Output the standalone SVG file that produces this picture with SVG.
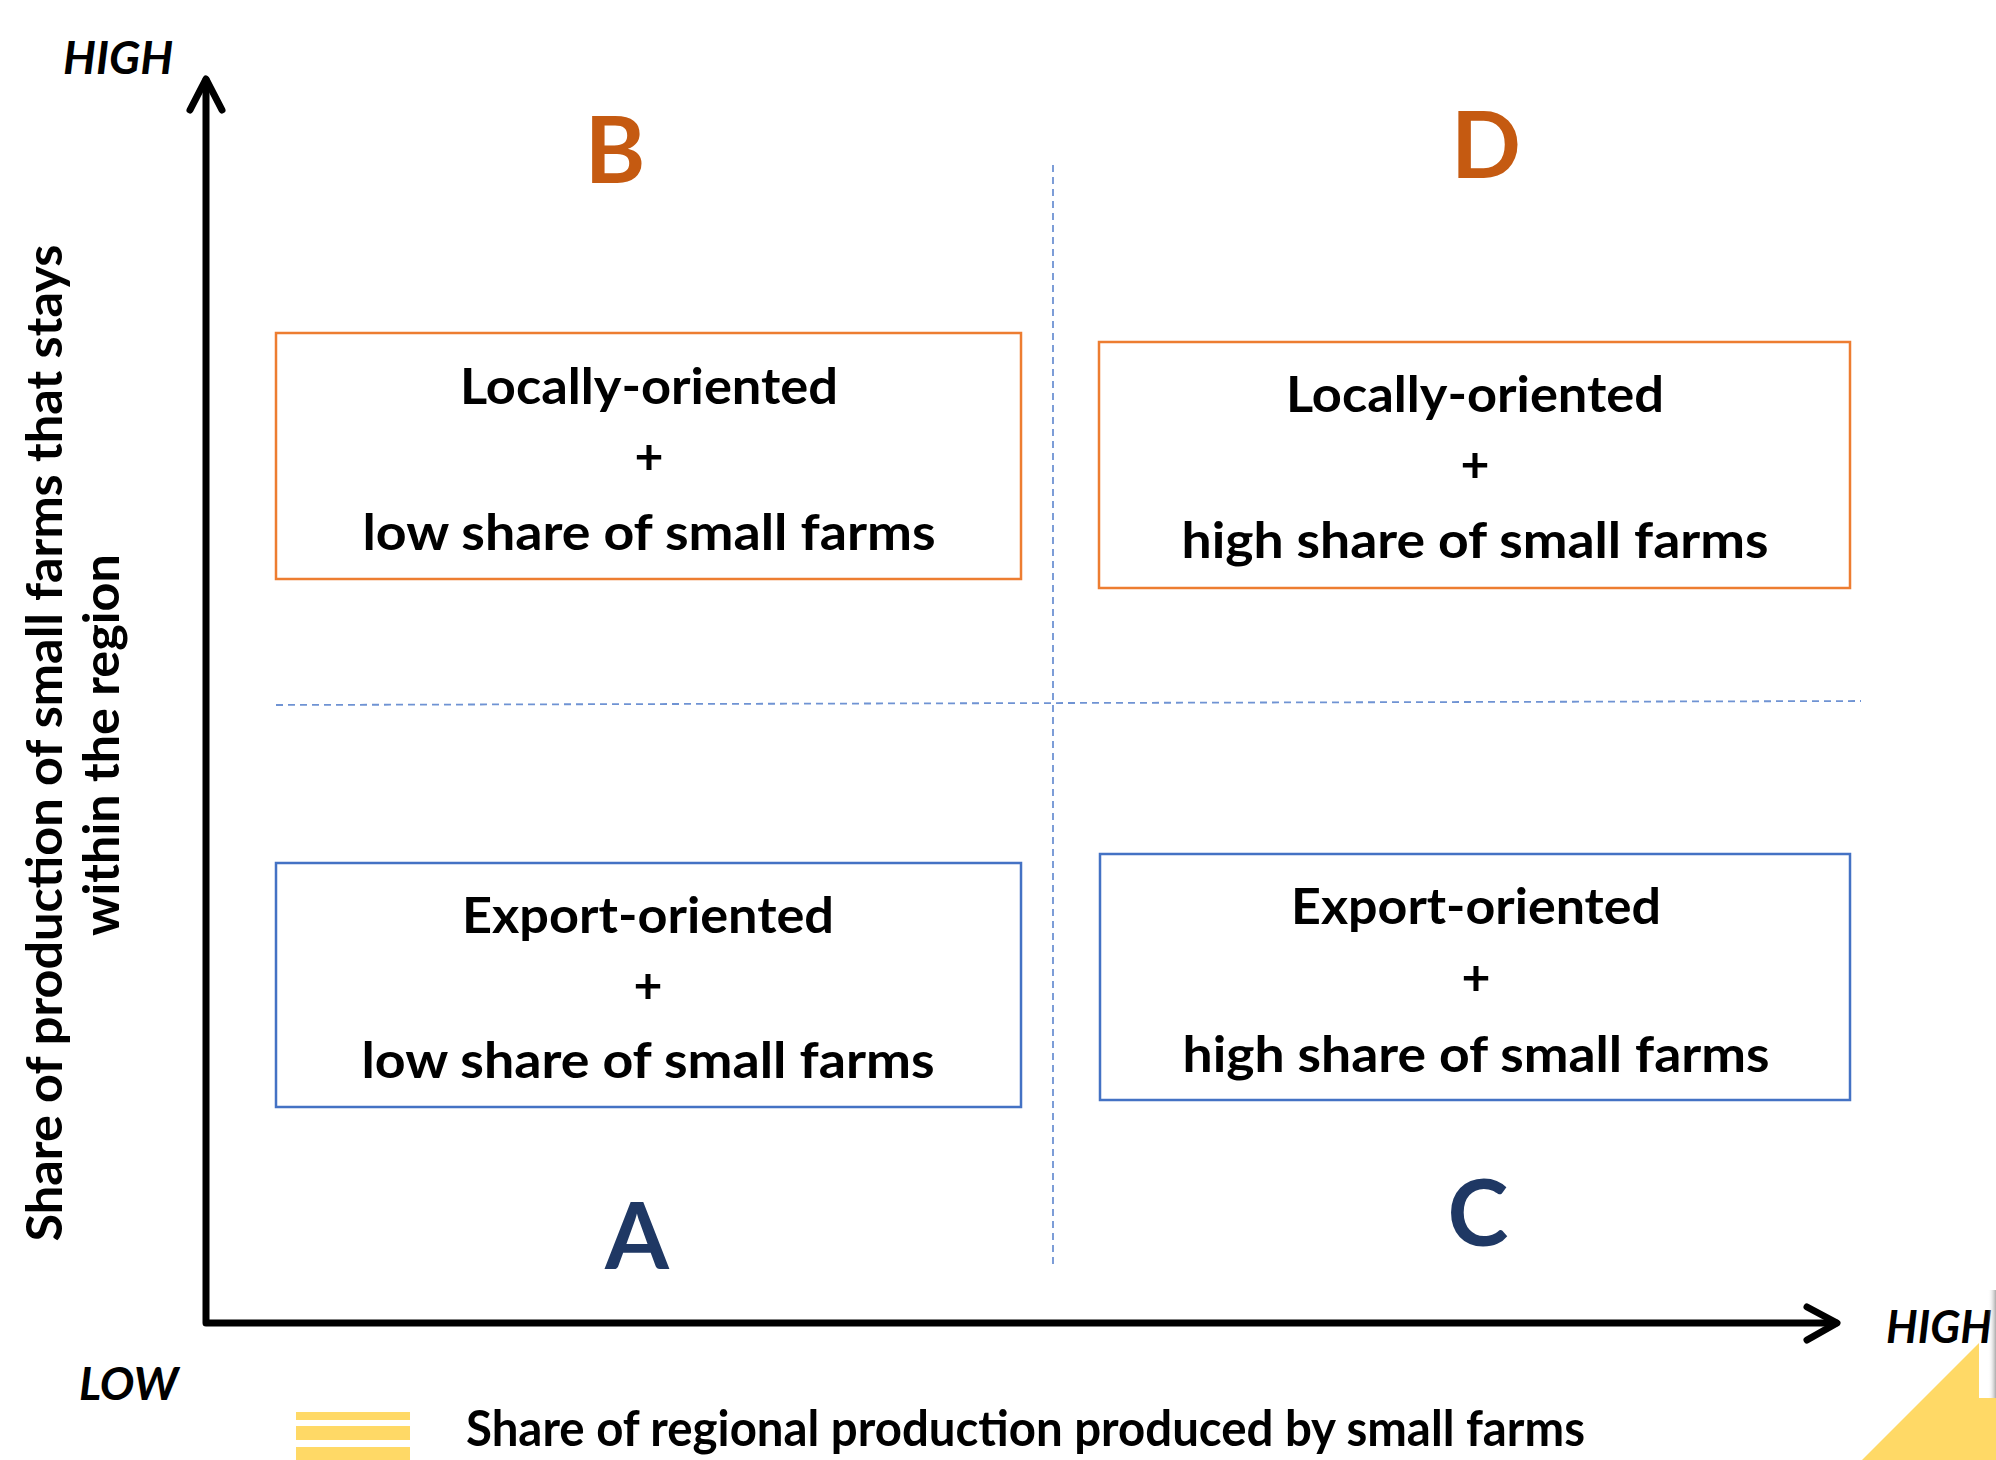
<svg xmlns="http://www.w3.org/2000/svg" width="1996" height="1460" viewBox="0 0 1996 1460">
<style>
  text { font-family: Lato, "Open Sans", "Liberation Sans", sans-serif; font-weight: bold; }
  .box-o { fill: #FFFFFF; stroke: #ED7D31; stroke-width: 2.5; }
  .box-b { fill: #FFFFFF; stroke: #4472C4; stroke-width: 2.5; }
  .t { font-size: 50px; fill: #000000; text-anchor: middle; }
  .ax { font-size: 46px; fill: #000000; font-style: italic; }
  .letter-o { font-size: 92px; fill: #C55A11; text-anchor: middle; }
  .letter-b { font-size: 92px; fill: #1F3864; text-anchor: middle; }
  .axis { stroke: #000000; stroke-width: 7; fill: none; stroke-linecap: round; stroke-linejoin: round; }
  .dash { stroke: #6F93D3; stroke-width: 1.8; fill: none; stroke-dasharray: 7 5; }
  .yel { fill: #FFD966; }
</style>
<defs>
  <linearGradient id="shadow" x1="0" y1="0" x2="1" y2="0">
    <stop offset="0" stop-color="#FFFFFF" stop-opacity="0"/>
    <stop offset="1" stop-color="#AAAAAA"/>
  </linearGradient>
</defs>
<rect x="0" y="0" width="1996" height="1460" fill="#FFFFFF"/>

<g id="connectors">
  <line class="dash" x1="1053" y1="165" x2="1053" y2="1268"/>
  <line class="dash" x1="276" y1="705" x2="1861" y2="701" stroke-dasharray="6 4"/>
  <polyline class="axis" points="206,80 206,1323 1836,1323"/>
  <polyline class="axis" points="190,110 206,79 222,110"/>
  <polyline class="axis" points="1807,1307 1837,1323 1807,1340"/>
</g>

<g id="axis-labels">
  <text class="ax" x="63" y="74">HIGH</text>
  <text class="ax" x="79" y="1400">LOW</text>
  <text class="ax" x="1886" y="1343" textLength="106" lengthAdjust="spacingAndGlyphs">HIGH</text>
  <text class="t" font-size="44" transform="rotate(-90)" x="-743" y="62" textLength="997" lengthAdjust="spacingAndGlyphs">Share of production of small farms that stays</text>
  <text class="t" font-size="44" transform="rotate(-90)" x="-745" y="119" textLength="382" lengthAdjust="spacingAndGlyphs">within the region</text>
  <text class="t" x="466" y="1446" style="text-anchor:start" textLength="1119" lengthAdjust="spacingAndGlyphs">Share of regional production produced by small farms</text>
</g>

<g id="legend-bars">
  <rect class="yel" x="296" y="1412" width="114" height="8"/>
  <rect class="yel" x="296" y="1426" width="114" height="14"/>
  <rect class="yel" x="296" y="1447" width="114" height="13"/>
</g>

<g id="corner-shape">
  <polygon class="yel" points="1862,1460 1979,1343 1979,1398 1996,1398 1996,1460"/>
  <rect x="1988" y="1290" width="8" height="108" fill="url(#shadow)"/>
</g>

<g id="node-B">
  <text class="letter-o" x="615" y="183">B</text>
  <rect class="box-o" x="276" y="333" width="745" height="246"/>
  <text class="t" x="649" y="404" textLength="378" lengthAdjust="spacingAndGlyphs">Locally-oriented</text>
  <text class="t" x="649" y="474">+</text>
  <text class="t" x="649" y="550" textLength="573" lengthAdjust="spacingAndGlyphs">low share of small farms</text>
</g>

<g id="node-D">
  <text class="letter-o" x="1486" y="178">D</text>
  <rect class="box-o" x="1099" y="342" width="751" height="246"/>
  <text class="t" x="1475" y="412" textLength="378" lengthAdjust="spacingAndGlyphs">Locally-oriented</text>
  <text class="t" x="1475" y="482">+</text>
  <text class="t" x="1475" y="558" textLength="587" lengthAdjust="spacingAndGlyphs">high share of small farms</text>
</g>

<g id="node-A">
  <rect class="box-b" x="276" y="863" width="745" height="244"/>
  <text class="t" x="648" y="933" textLength="372" lengthAdjust="spacingAndGlyphs">Export-oriented</text>
  <text class="t" x="648" y="1003">+</text>
  <text class="t" x="648" y="1078" textLength="573" lengthAdjust="spacingAndGlyphs">low share of small farms</text>
  <text class="letter-b" x="637" y="1269">A</text>
</g>

<g id="node-C">
  <rect class="box-b" x="1100" y="854" width="750" height="246"/>
  <text class="t" x="1476" y="924" textLength="370" lengthAdjust="spacingAndGlyphs">Export-oriented</text>
  <text class="t" x="1476" y="995">+</text>
  <text class="t" x="1476" y="1072" textLength="587" lengthAdjust="spacingAndGlyphs">high share of small farms</text>
  <text class="letter-b" x="1478" y="1246">C</text>
</g>
</svg>
